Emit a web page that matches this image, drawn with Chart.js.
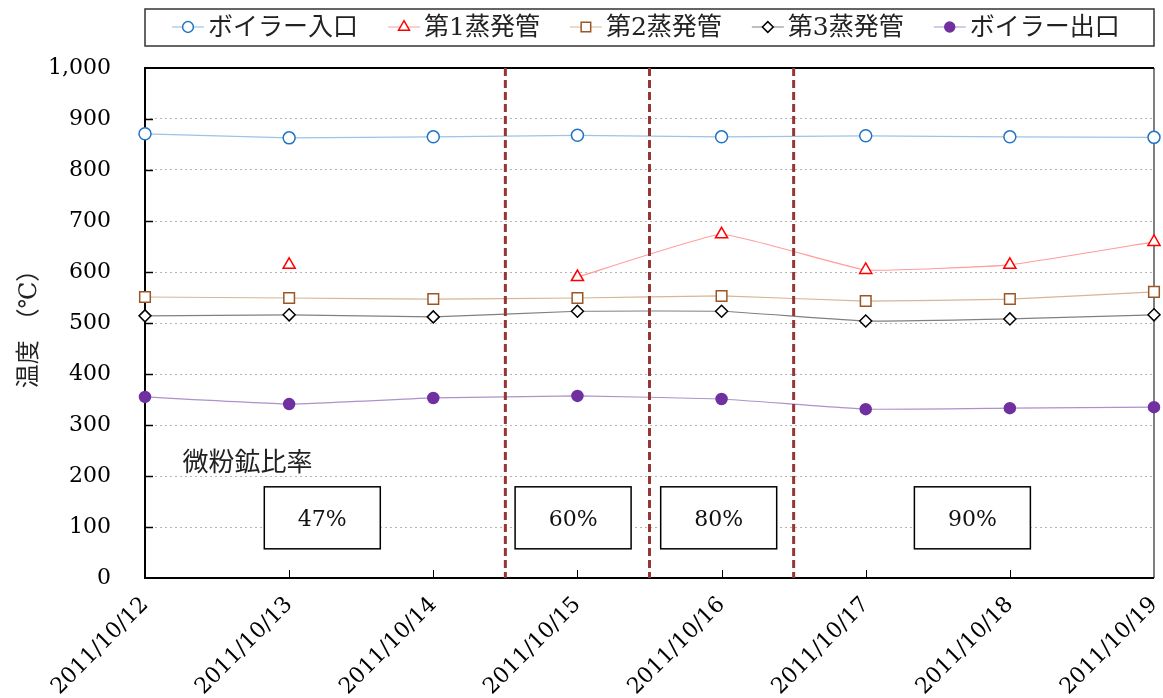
<!DOCTYPE html>
<html>
<head>
<meta charset="utf-8">
<script src="https://cdn.jsdelivr.net/npm/chart.js@4/dist/chart.umd.min.js"></script>
<style>
  html, body { margin: 0; padding: 0; background: #fff; }
  #wrap { width: 1163px; height: 698px; }
</style>
</head>
<body>
<div id="wrap"><canvas id="c" width="1163" height="698"></canvas></div>
<script>
// data
const dates = ['2011/10/12', '2011/10/13', '2011/10/14', '2011/10/15', '2011/10/16', '2011/10/17', '2011/10/18', '2011/10/19'];
const boilerIn = [871, 863, 865, 868, 865, 867, 865, 864];
const evap1 = [null, 614, null, 590, 674, 604, 614, 659];
const evap2 = [551, 549, 547, 549, 553, 543, 547, 561];
const evap3 = [514, 516, 512, 523, 523, 504, 508, 516];
const boilerOut = [355, 341, 353, 357, 351, 331, 333, 335];
const yTickLabels = ['0', '100', '200', '300', '400', '500', '600', '700', '800', '900', '1,000'];

const ratioTitle = '微粉鉱比率';
const ratioLabels = ['47%', '60%', '80%', '90%'];
const phaseBreaks = [2.5, 3.5, 4.5];

// where the ratio boxes sit (category index / value)
const ratioBoxX = [1.23, 2.97, 3.98, 5.74];
const ratioBoxY = 118;
const ratioTitlePos = { x: 0.26, y: 224 };

const FONT = "'DejaVu Serif', 'Noto Sans CJK JP', serif";

const series = [
    { label: 'ボイラー入口', data: boilerIn, line: '#9dc3e6', mark: '#1f74c4', fill: '#ffffff', style: 'circle', r: 6 },
    { label: '第1蒸発管', data: evap1, line: '#ff9c9c', mark: '#ff0000', fill: '#ffffff', style: 'triangle', r: 7 },
    { label: '第2蒸発管', data: evap2, line: '#d8b596', mark: '#9c5524', fill: '#ffffff', style: 'rect', r: 7.5 },
    { label: '第3蒸発管', data: evap3, line: '#808080', mark: '#000000', fill: '#ffffff', style: 'rectRot', r: 6 },
    { label: 'ボイラー出口', data: boilerOut, line: '#ab93c9', mark: '#7030a0', fill: '#7030a0', style: 'circle', r: 5.5 }
];

const framePlugin = {
    id: 'frame',
    beforeDatasetsDraw(chart) {
        const { ctx, chartArea: a, scales } = chart;
        ctx.save();
        // inward ticks
        ctx.strokeStyle = '#000';
        ctx.lineWidth = 1.5;
        for (let v = 100; v < 1000; v += 100) {
            const y = Math.round(scales.y.getPixelForValue(v)) + 0.5;
            ctx.beginPath();
            ctx.moveTo(a.left, y);
            ctx.lineTo(a.left + 8, y);
            ctx.stroke();
        }
        ctx.lineWidth = 1;
        for (let i = 1; i < dates.length - 1; i++) {
            const x = Math.round(scales.x.getPixelForValue(i)) + 0.5;
            ctx.beginPath();
            ctx.moveTo(x, a.bottom);
            ctx.lineTo(x, a.bottom - 8);
            ctx.stroke();
        }
        // frame
        ctx.strokeStyle = '#7f7f7f';
        ctx.lineWidth = 2;
        ctx.beginPath();
        ctx.moveTo(a.right, a.top);
        ctx.lineTo(a.right, a.bottom);
        ctx.stroke();
        ctx.strokeStyle = '#000';
        ctx.beginPath();
        ctx.moveTo(a.right, a.top);
        ctx.lineTo(a.left, a.top);
        ctx.lineTo(a.left, a.bottom);
        ctx.lineTo(a.right, a.bottom);
        ctx.stroke();

        // ratio title and boxes
        ctx.fillStyle = '#222';
        ctx.font = '26px ' + FONT;
        ctx.textAlign = 'left';
        ctx.textBaseline = 'middle';
        ctx.fillText(ratioTitle, scales.x.getPixelForValue(ratioTitlePos.x), scales.y.getPixelForValue(ratioTitlePos.y));
        ctx.font = '22px ' + FONT;
        ctx.textAlign = 'center';
        ratioLabels.forEach((t, i) => {
            const cx = scales.x.getPixelForValue(ratioBoxX[i]);
            const cy = scales.y.getPixelForValue(ratioBoxY);
            ctx.fillStyle = '#fff';
            ctx.fillRect(cx - 58, cy - 31, 116, 62);
            ctx.strokeStyle = '#000';
            ctx.lineWidth = 1.5;
            ctx.strokeRect(cx - 58, cy - 31, 116, 62);
            ctx.fillStyle = '#111';
            ctx.fillText(t, cx, cy + 2);
        });
        ctx.restore();
    },
    afterDatasetsDraw(chart) {
        const { ctx, chartArea: a, scales } = chart;
        ctx.save();
        ctx.strokeStyle = '#953735';
        ctx.lineWidth = 3;
        ctx.setLineDash([8, 4]);
        phaseBreaks.forEach(p => {
            const x = scales.x.getPixelForValue(p);
            ctx.beginPath();
            ctx.moveTo(x, a.top);
            ctx.lineTo(x, a.bottom);
            ctx.stroke();
        });
        ctx.restore();
    }
};

const legendPlugin = {
    id: 'boxLegend',
    afterDraw(chart) {
        const { ctx, chartArea: a } = chart;
        ctx.save();
        ctx.strokeStyle = '#333';
        ctx.lineWidth = 1.5;
        ctx.strokeRect(a.left, 9, a.right - a.left, 37);
        ctx.font = '25px ' + FONT;
        ctx.textBaseline = 'middle';
        ctx.textAlign = 'left';
        let x = 172;
        const y = 27;
        chart.data.datasets.forEach(ds => {
            ctx.strokeStyle = ds.borderColor;
            ctx.lineWidth = 1.2;
            ctx.beginPath();
            ctx.moveTo(x, y);
            ctx.lineTo(x + 32, y);
            ctx.stroke();
            ctx.strokeStyle = ds.pointBorderColor;
            ctx.fillStyle = ds.pointBackgroundColor;
            ctx.lineWidth = 1.5;
            Chart.helpers.drawPoint(ctx, { pointStyle: ds.pointStyle, radius: ds.pointRadius * 0.9, rotation: 0, borderWidth: 1.5 }, x + 16, y);
            ctx.fillStyle = '#222';
            ctx.fillText(ds.label, x + 36, y + 1);
            x += 36 + ctx.measureText(ds.label).width + 30;
        });
        ctx.restore();
    }
};

new Chart(document.getElementById('c'), {
    type: 'line',
    data: {
        labels: dates,
        datasets: series.map(s => ({
            label: s.label,
            data: s.data,
            borderColor: s.line,
            borderWidth: 1.2,
            pointStyle: s.style,
            pointRadius: s.r,
            pointBorderColor: s.mark,
            pointBackgroundColor: s.fill,
            pointBorderWidth: 1.5,
            pointHoverRadius: s.r,
            tension: 0.1,
            spanGaps: false,
            clip: false
        }))
    },
    options: {
        responsive: false,
        animation: false,
        devicePixelRatio: 1,
        layout: { padding: { top: 68, right: 8, left: 0, bottom: 0 } },
        plugins: {
            legend: { display: false },
            tooltip: { enabled: false }
        },
        scales: {
            x: {
                type: 'category',
                offset: false,
                grid: { display: false, drawTicks: false },
                border: { display: false },
                ticks: {
                    color: '#000',
                    font: { family: FONT, size: 22 },
                    minRotation: 45,
                    maxRotation: 45,
                    autoSkip: false,
                    padding: 14
                },
                afterFit: s => { s.height = 120; s.paddingLeft = 0; s.paddingRight = 0; }
            },
            y: {
                min: 0,
                max: 1000,
                grid: { color: '#b4b4b4', lineWidth: 1, drawTicks: false },
                border: { display: false, dash: [2, 3] },
                ticks: {
                    stepSize: 100,
                    color: '#000',
                    padding: 34,
                    font: { family: FONT, size: 22 },
                    callback: (v, i) => yTickLabels[i]
                },
                title: {
                    display: true,
                    text: '温度 （℃）',
                    color: '#222',
                    font: { family: FONT, size: 24 },
                    padding: { top: 15, bottom: 0 }
                },
                afterFit: s => { s.width = 145; }
            }
        }
    },
    plugins: [framePlugin, legendPlugin]
});
</script>
</body>
</html>
